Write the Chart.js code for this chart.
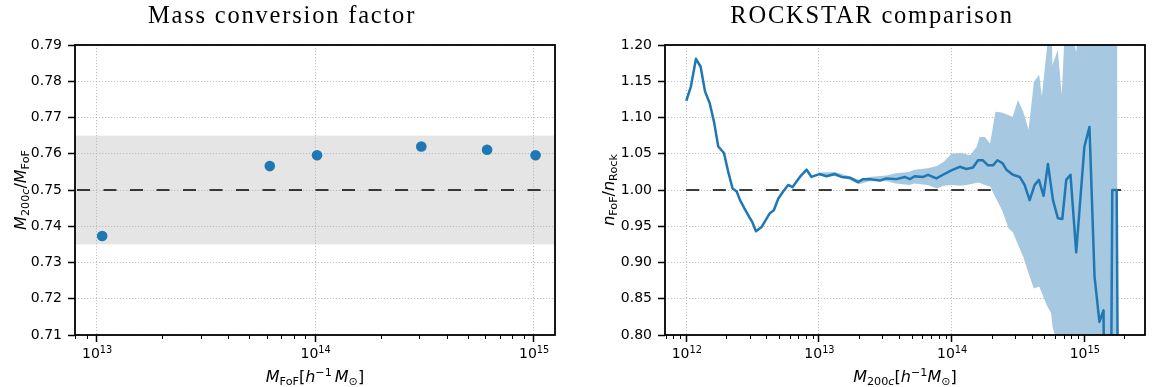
<!DOCTYPE html>
<html>
<head>
<meta charset="utf-8">
<script src="https://cdn.jsdelivr.net/npm/chart.js@4.4.1/dist/chart.umd.min.js"></script>
<style>
  html, body { margin: 0; padding: 0; background: #fff; }
  #wrap { position: relative; width: 1156px; height: 387px; overflow: hidden; }
  canvas { position: absolute; top: 0; }
  #massChart { left: 0; }
  #rockChart { left: 590px; }
</style>
</head>
<body>
<div id="wrap">
  <canvas id="massChart" width="590" height="387"></canvas>
  <canvas id="rockChart" width="566" height="387"></canvas>
</div>
<script>
// ---- Mass conversion factor: M200c / MFoF per FoF mass bin ----
const fofMass = [1.06e13, 6.2e13, 1.02e14, 3.06e14, 6.12e14, 1.02e15];
const conversionRatio = [0.7373, 0.7566, 0.7596, 0.7620, 0.7611, 0.7596];
const conversionMean = 0.75;
const conversionBand = [0.735, 0.765];
const massXRange = [7.96e12, 1.252e15];
const massYTicks = [0.71, 0.72, 0.73, 0.74, 0.75, 0.76, 0.77, 0.78, 0.79];
const massXTicks = [1e13, 1e14, 1e15];
const massXTickLabels = [['10', '13'], ['10', '14'], ['10', '15']];

// ---- ROCKSTAR comparison: nFoF / nRock against log10 M200c ----
const rockLogMass = [
  12.000, 12.035, 12.073, 12.108, 12.141, 12.176, 12.209, 12.241, 12.284, 12.316,
  12.349, 12.380, 12.405, 12.437, 12.480, 12.497, 12.525, 12.568, 12.630, 12.660,
  12.693, 12.730, 12.768, 12.801, 12.856, 12.907, 12.944, 13.002, 13.057, 13.120,
  13.170, 13.233, 13.295, 13.333, 13.383, 13.459, 13.509, 13.584, 13.647, 13.684,
  13.722, 13.785, 13.822, 13.885, 13.935, 13.998, 14.061, 14.111, 14.161, 14.199,
  14.236, 14.274, 14.312, 14.345, 14.383, 14.413, 14.462, 14.513, 14.550, 14.588,
  14.626, 14.658, 14.693, 14.726, 14.764, 14.801, 14.834, 14.864, 14.896, 14.939,
  15.001, 15.039, 15.077, 15.114, 15.145, 15.178, 15.211, 15.244, 15.277
];
const rockRatio = [
  1.123, 1.143, 1.181, 1.170, 1.136, 1.120, 1.094, 1.060, 1.051, 1.025,
  1.002, 0.998, 0.986, 0.975, 0.961, 0.956, 0.943, 0.949, 0.968, 0.972,
  0.988, 0.998, 1.007, 1.004, 1.018, 1.028, 1.018, 1.022, 1.019, 1.022,
  1.018, 1.017, 1.011, 1.015, 1.015, 1.013, 1.016, 1.015, 1.018, 1.015,
  1.019, 1.018, 1.021, 1.016, 1.021, 1.027, 1.032, 1.029, 1.031, 1.041,
  1.041, 1.034, 1.034, 1.041, 1.037, 1.028, 1.021, 1.018, 1.007, 0.986,
  1.007, 1.014, 0.992, 1.036, 0.986, 0.961, 0.960, 1.014, 1.021, 0.914,
  1.060, 1.087, 0.881, 0.818, 0.834, 0.000, 1.000, 1.000, 0.000
];
// error envelope of the ratio
const bandLogMass = [
  13.00, 13.12, 13.23, 13.30, 13.38, 13.51, 13.58, 13.68, 13.72, 13.82,
  13.89, 13.94, 14.00, 14.07, 14.14, 14.19, 14.21, 14.25, 14.29, 14.33,
  14.38, 14.43, 14.46, 14.50, 14.54, 14.58, 14.62, 14.66, 14.68, 14.72,
  14.75, 14.76, 14.80, 14.83, 14.86, 14.94, 15.00, 15.10, 15.25
];
const bandUpper = [
  1.024, 1.025, 1.019, 1.014, 1.018, 1.020, 1.023, 1.025, 1.028, 1.030,
  1.033, 1.039, 1.050, 1.051, 1.048, 1.060, 1.073, 1.073, 1.064, 1.108,
  1.107, 1.103, 1.101, 1.124, 1.108, 1.083, 1.149, 1.159, 1.129, 1.198,
  1.250, 1.172, 1.193, 1.131, 1.250, 1.190, 1.400, 1.500, 1.500
];
const bandLower = [
  1.020, 1.019, 1.014, 1.008, 1.012, 1.012, 1.009, 1.007, 1.009, 1.007,
  1.002, 1.006, 1.007, 1.006, 1.008, 1.010, 1.010, 1.007, 1.005, 0.990,
  0.972, 0.947, 0.942, 0.925, 0.908, 0.885, 0.864, 0.867, 0.858, 0.840,
  0.830, 0.812, 0.785, 0.765, 0.745, 0.700, 0.600, 0.500, 0.500
];
const rockReference = 1.0;
const rockXRange = [6.91e11, 2.868e15];
const rockYTicks = [0.80, 0.85, 0.90, 0.95, 1.00, 1.05, 1.10, 1.15, 1.20];
const rockXTicks = [1e12, 1e13, 1e14, 1e15];
const rockXTickLabels = [['10', '12'], ['10', '13'], ['10', '14'], ['10', '15']];

const BLUE = '#1f77b4';
const BAND_BLUE = '#a6c8e0';
const TICK_FONT = { family: 'DejaVu Sans', size: 14 };

// ---- mathtext-like label rendering (italic symbols, sub/superscripts) ----
const MAIN_PX = 16, SCRIPT_PX = 11.2;
function mathFont(kind) {
  if (kind === 'i') return `italic ${MAIN_PX}px "DejaVu Sans"`;
  if (kind === 'r') return `${MAIN_PX}px "DejaVu Sans"`;
  if (kind === 'subi') return `italic ${SCRIPT_PX}px "DejaVu Sans"`;
  if (kind === 'tick') return '14px "DejaVu Sans"';
  if (kind === 'exp') return '9.8px "DejaVu Sans"';
  return `${SCRIPT_PX}px "DejaVu Sans"`;
}
function mathShift(kind) {
  if (kind === 'sub' || kind === 'subi') return 3.6;
  if (kind === 'sup') return -5.8;
  if (kind === 'exp') return -5.2;
  return 0;
}
function drawMath(ctx, parts, x, y, vertical) {
  ctx.save();
  ctx.fillStyle = '#000';
  ctx.textAlign = 'left';
  ctx.textBaseline = 'alphabetic';
  const widths = parts.map(([t, k]) => {
    if (k === 'gap') return t;
    ctx.font = mathFont(k);
    return ctx.measureText(t).width;
  });
  const total = widths.reduce((s, v) => s + v, 0);
  ctx.translate(x, y);
  if (vertical) ctx.rotate(-Math.PI / 2);
  let cx = -total / 2;
  parts.forEach(([t, k], i) => {
    if (k !== 'gap') {
      ctx.font = mathFont(k);
      ctx.fillText(t, cx, mathShift(k));
    }
    cx += widths[i];
  });
  ctx.restore();
}

// frame, title, axis labels, log tick labels, minor log ticks and reference marks
const panelDecor = {
  id: 'panelDecor',
  beforeDraw(chart, args, opts) {
    const { ctx, chartArea: a, scales } = chart;
    if (opts.shade) {
      const yTop = scales.y.getPixelForValue(opts.shade[1]);
      const yBot = scales.y.getPixelForValue(opts.shade[0]);
      ctx.save();
      ctx.fillStyle = '#e5e5e5';
      ctx.fillRect(a.left, yTop, a.right - a.left, yBot - yTop);
      ctx.restore();
    }
  },
  beforeDatasetsDraw(chart, args, opts) {
    const { ctx, chartArea: a, scales } = chart;
    if (opts.hline !== undefined) {
      const y = scales.y.getPixelForValue(opts.hline);
      ctx.save();
      ctx.strokeStyle = '#000';
      ctx.lineWidth = 1.5;
      ctx.setLineDash([13, 13.5]);
      ctx.beginPath();
      ctx.moveTo(a.left + 2, y);
      ctx.lineTo(a.right, y);
      ctx.stroke();
      ctx.restore();
    }
  },
  afterDraw(chart, args, opts) {
    const { ctx, chartArea: a, scales } = chart;
    const xs = scales.x;
    ctx.save();
    // minor ticks on the log axis
    ctx.strokeStyle = '#000';
    ctx.lineWidth = 1;
    const d0 = Math.floor(Math.log10(xs.min)), d1 = Math.ceil(Math.log10(xs.max));
    for (let d = d0; d <= d1; d++) {
      for (let m = 2; m <= 9; m++) {
        const v = m * Math.pow(10, d);
        if (v < xs.min || v > xs.max) continue;
        const px = Math.round(xs.getPixelForValue(v)) + 0.5;
        ctx.beginPath();
        ctx.moveTo(px, a.bottom);
        ctx.lineTo(px, a.bottom + 4);
        ctx.stroke();
      }
    }
    // axes frame
    ctx.lineWidth = 1.8;
    ctx.strokeRect(a.left, a.top, a.right - a.left, a.bottom - a.top);
    // title
    ctx.fillStyle = '#000';
    ctx.font = '24.5px "Liberation Serif"';
    ctx.letterSpacing = '1.8px';
    ctx.textAlign = 'center';
    ctx.textBaseline = 'alphabetic';
    ctx.fillText(opts.title, (a.left + a.right) / 2 - 33, 23);
    ctx.letterSpacing = '0px';
    ctx.restore();
    // decade tick labels, 10 with a raised exponent
    xs.ticks.forEach((t, i) => {
      const lbl = opts.xTickLabels[i];
      if (!lbl) return;
      drawMath(ctx, [[lbl[0], 'tick'], [lbl[1], 'exp']], xs.getPixelForValue(t.value) + 0.5, 358, false);
    });
    // axis labels
    drawMath(ctx, opts.xLabel, (a.left + a.right) / 2, 381.5, false);
    drawMath(ctx, opts.yLabel, opts.yLabelX, (a.top + a.bottom) / 2, true);
  }
};

function logAxis(range, ticks) {
  return {
    type: 'logarithmic',
    min: range[0],
    max: range[1],
    afterBuildTicks: (scale) => { scale.ticks = ticks.map(v => ({ value: v })); },
    afterFit: (scale) => { scale.height = 52; },
    ticks: { display: false, font: TICK_FONT, autoSkip: false, maxRotation: 0 },
    grid: { color: '#b0b0b0', lineWidth: 0.8, tickLength: 7, tickColor: '#000', tickWidth: 1.5, tickBorderDash: [] },
    border: { display: false, dash: [1.2, 1.8] }
  };
}
function linAxis(ticks) {
  return {
    type: 'linear',
    min: ticks[0],
    max: ticks[ticks.length - 1],
    afterBuildTicks: (scale) => { scale.ticks = ticks.map(v => ({ value: v })); },
    afterFit: (scale) => { scale.width = 75; },
    ticks: { font: TICK_FONT, color: '#000', padding: 6, callback: (v) => Number(v).toFixed(2) },
    grid: { color: '#b0b0b0', lineWidth: 0.8, tickLength: 7, tickColor: '#000', tickWidth: 1.5, tickBorderDash: [] },
    border: { display: false, dash: [1.2, 1.8] }
  };
}

// Left panel
new Chart(document.getElementById('massChart'), {
  type: 'scatter',
  data: {
    datasets: [{
      data: fofMass.map((m, i) => ({ x: m, y: conversionRatio[i] })),
      backgroundColor: BLUE,
      borderWidth: 0,
      pointRadius: 5.3
    }]
  },
  options: {
    responsive: false,
    animation: false,
    devicePixelRatio: 1,
    layout: { padding: { left: 0, right: 35, top: 45, bottom: 0 } },
    plugins: {
      legend: { display: false },
      tooltip: { enabled: false },
      panelDecor: {
        title: 'Mass conversion factor',
        shade: conversionBand,
        hline: conversionMean,
        xTickLabels: massXTickLabels,
        xLabel: [['M', 'i'], ['FoF', 'sub'], ['[', 'r'], ['h', 'i'], ['\u22121', 'sup'], [3, 'gap'], ['M', 'i'], ['\u2299', 'sub'], [']', 'r']],
        yLabel: [['M', 'i'], ['200', 'sub'], ['c', 'subi'], ['/', 'r'], ['M', 'i'], ['FoF', 'sub']],
        yLabelX: 25.5
      }
    },
    scales: {
      x: logAxis(massXRange, massXTicks),
      y: linAxis(massYTicks)
    }
  },
  plugins: [panelDecor]
});

// Right panel
const rockPoints = rockLogMass.map((lm, i) => ({ x: Math.pow(10, lm), y: rockRatio[i] }));
new Chart(document.getElementById('rockChart'), {
  type: 'line',
  data: {
    datasets: [
      {
        data: [
          { x: Math.pow(10, rockLogMass[0]), y: rockReference },
          { x: Math.pow(10, rockLogMass[rockLogMass.length - 1]), y: rockReference }
        ],
        borderColor: '#000', borderWidth: 1.5, borderDash: [13, 13.5],
        pointRadius: 0, fill: false, order: 3
      },
      {
        data: bandLogMass.map((lm, i) => ({ x: Math.pow(10, lm), y: bandLower[i] })),
        borderWidth: 0, pointRadius: 0, fill: false, order: 2
      },
      {
        data: bandLogMass.map((lm, i) => ({ x: Math.pow(10, lm), y: bandUpper[i] })),
        borderWidth: 0, pointRadius: 0, backgroundColor: BAND_BLUE, fill: '-1', order: 1
      },
      {
        data: rockPoints,
        borderColor: BLUE, borderWidth: 2.5, pointRadius: 0, fill: false, tension: 0,
        borderJoinStyle: 'round', borderCapStyle: 'butt', order: 0
      }
    ]
  },
  options: {
    responsive: false,
    animation: false,
    devicePixelRatio: 1,
    layout: { padding: { left: 0, right: 11, top: 45, bottom: 0 } },
    plugins: {
      legend: { display: false },
      tooltip: { enabled: false },
      panelDecor: {
        title: 'ROCKSTAR comparison',
        xTickLabels: rockXTickLabels,
        xLabel: [['M', 'i'], ['200', 'sub'], ['c', 'subi'], ['[', 'r'], ['h', 'i'], ['\u22121', 'sup'], ['M', 'i'], ['\u2299', 'sub'], [']', 'r']],
        yLabel: [['n', 'i'], ['FoF', 'sub'], ['/', 'r'], ['n', 'i'], ['Rock', 'sub']],
        yLabelX: 23.5
      }
    },
    scales: {
      x: logAxis(rockXRange, rockXTicks),
      y: linAxis(rockYTicks)
    }
  },
  plugins: [panelDecor]
});
</script>
</body>
</html>
